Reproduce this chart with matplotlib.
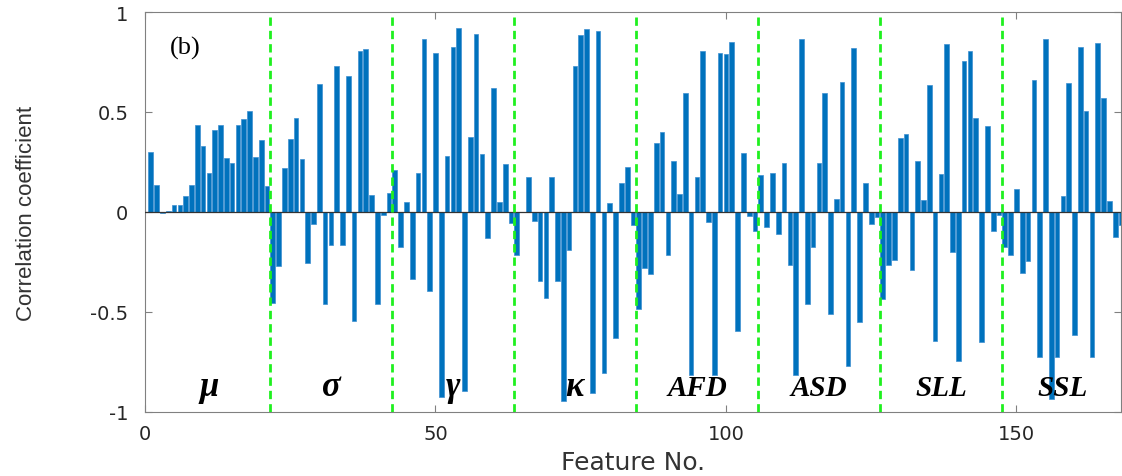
import numpy as np
import matplotlib
matplotlib.use("Agg")
import matplotlib.pyplot as plt
from matplotlib import font_manager

# Correlation coefficient of each feature, 21 features per group
mu_vals = [0.30, 0.135, -0.007, 0.003, 0.033, 0.033, 0.078, 0.135, 0.433, 0.33, 0.197,
           0.41, 0.433, 0.27, 0.245, 0.437, 0.463, 0.503, 0.277, 0.36, 0.132]
sigma_vals = [-0.455, -0.272, 0.22, 0.365, 0.468, 0.263, -0.255, -0.06, 0.64, -0.46, -0.163,
              0.732, -0.167, 0.682, -0.543, 0.803, 0.817, 0.083, -0.458, -0.017, 0.097]
gamma_vals = [0.21, -0.177, 0.05, -0.335, 0.193, 0.863, -0.397, 0.795, -0.927, 0.282, 0.827,
              0.922, -0.897, 0.375, 0.89, 0.288, -0.13, 0.622, 0.05, 0.242, -0.055]
kappa_vals = [-0.213, 0.0, 0.173, -0.043, -0.347, -0.43, 0.177, -0.347, -0.947, -0.19, 0.732,
              0.883, 0.917, -0.905, 0.903, -0.807, 0.043, -0.63, 0.147, 0.223, -0.063]
afd_vals = [-0.483, -0.28, -0.31, 0.345, 0.402, -0.217, 0.253, 0.092, 0.595, -0.815, 0.173,
            0.807, -0.05, -0.815, 0.793, 0.79, 0.852, -0.597, 0.297, -0.02, -0.097]
asd_vals = [0.187, -0.073, 0.193, -0.11, 0.245, -0.263, -0.817, 0.863, -0.46, -0.175, 0.245,
            0.595, -0.51, 0.067, 0.648, -0.768, 0.818, -0.55, 0.145, -0.058, -0.023]
sll_vals = [-0.437, -0.267, -0.238, 0.37, 0.392, -0.288, 0.253, 0.062, 0.637, -0.643, 0.19,
            0.84, -0.198, -0.743, 0.757, 0.803, 0.47, -0.65, 0.432, -0.097, -0.017]
ssl_vals = [-0.177, -0.217, 0.117, -0.305, -0.247, 0.66, -0.727, 0.865, -0.935, -0.727, 0.08,
            0.643, -0.617, 0.825, 0.503, -0.727, 0.845, 0.57, 0.053, -0.127, -0.063]

group_names = ["μ", "σ", "γ", "κ", "AFD", "ASD", "SLL", "SSL"]
groups = [mu_vals, sigma_vals, gamma_vals, kappa_vals,
          afd_vals, asd_vals, sll_vals, ssl_vals]

x_ticks = [0, 50, 100, 150]
y_ticks = [-1, -0.5, 0, 0.5, 1]
y_ticklabels = ["-1", "-0.5", "0", "0.5", "1"]

BAR_BLUE = "#0072BD"
SEP_GREEN = "#1ff01f"
AXIS_GRAY = "#808080"
TEXT_DARK = "#262626"


def has_font(name):
    return any(f.name == name for f in font_manager.fontManager.ttflist)


values = np.concatenate(groups)
feature_no = np.arange(1, len(values) + 1)
group_len = len(mu_vals)

fig = plt.figure(figsize=(11.22, 4.77), dpi=100)
ax = fig.add_axes([145 / 1122, 64 / 477, 976 / 1122, 400 / 477])

ax.bar(feature_no, values, width=0.8, color=BAR_BLUE,
       edgecolor="#3d8fd1", linewidth=0.5, zorder=2)
ax.axhline(0, color="#333333", linewidth=0.9, zorder=3)

# dashed separators between feature groups
for k in range(1, len(groups)):
    ax.axvline(k * group_len + 0.5, color=SEP_GREEN, linewidth=2.0,
               linestyle=(0, (3, 1.8)), zorder=4)

# group names under the bars (greek symbols drawn a bit larger)
for k, name in enumerate(group_names):
    size = 25 if len(name) == 1 else 21
    ax.text(k * group_len + (group_len + 1) / 2, -0.915, name,
            ha="center", va="baseline", fontsize=size, fontweight="bold",
            fontstyle="italic", family="Liberation Serif", color="black", zorder=5)

ax.text(0.041, 0.912, "(b)", transform=ax.transAxes, ha="center", va="center",
        fontsize=19, family="Liberation Serif", color="black")

ax.set_xlim(0, len(values))
ax.set_ylim(-1, 1)
ax.set_xticks(x_ticks)
ax.set_yticks(y_ticks)
ax.set_yticklabels(y_ticklabels)

ax.tick_params(direction="in", top=True, right=True, length=5, width=0.8,
               color=AXIS_GRAY, labelsize=14, labelcolor=TEXT_DARK)
ax.tick_params(axis="y", pad=12)
ax.tick_params(axis="x", pad=9)
for lbl in ax.get_xticklabels() + ax.get_yticklabels():
    lbl.set_family("DejaVu Sans")

for spine in ax.spines.values():
    spine.set_color(AXIS_GRAY)
    spine.set_linewidth(0.8)

narrow = has_font("Liberation Sans Narrow")
ax.set_ylabel("Correlation coefficient", fontsize=18 if narrow else 16,
              family="Liberation Sans Narrow" if narrow else "Liberation Sans",
              color="#333333", va="center")
ax.yaxis.set_label_coords(-0.121, 0.5)

ax.set_xlabel("Feature No.", fontsize=18, family="DejaVu Sans", color="#333333", va="center")
ax.xaxis.set_label_coords(0.5, -0.125)

fig.savefig("out.png", dpi=100)
